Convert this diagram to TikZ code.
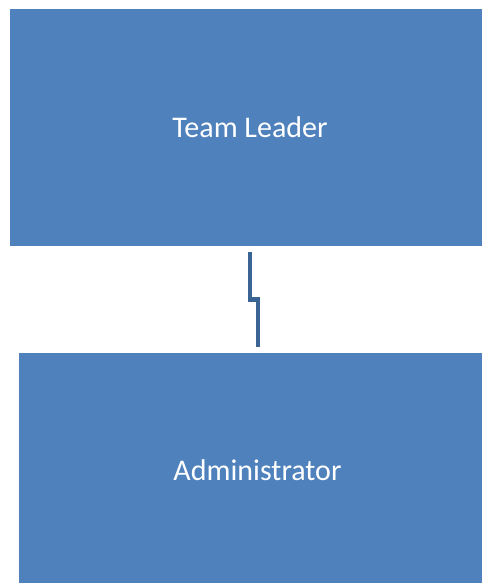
\documentclass[tikz,border=0pt]{standalone}
\usepackage{fontspec}
\setmainfont{Carlito}
\definecolor{boxblue}{HTML}{4F81BD}
\definecolor{lineblue}{HTML}{3A6494}
\begin{document}
\begin{tikzpicture}[x=1pt,y=-1pt,
  orgbox/.style={fill=boxblue,draw=none,inner sep=0pt,text=white,font=\fontsize{30}{35}\selectfont},
  conn/.style={draw=lineblue,line width=4.6pt}]
\useasboundingbox (0,0) rectangle (482,583);
\node[orgbox,minimum width=472pt,minimum height=237pt] (tl) at (246,127.5) {};
\node[orgbox,minimum width=463pt,minimum height=230pt] (ad) at (250.5,468) {};
\node[text=white,font=\fontsize{30}{35}\selectfont,inner sep=0pt] (tlt) at (250,127) {Team Leader};
\node[text=white,font=\fontsize{30}{35}\selectfont,inner sep=0pt] (adt) at (257.5,470) {Administrator};
\coordinate (c1) at (250,252);
\coordinate (c2) at (258,347);
\draw[conn] (c1) -- (250,299.5) -- (258,299.5) -- (c2);
\end{tikzpicture}
\end{document}
